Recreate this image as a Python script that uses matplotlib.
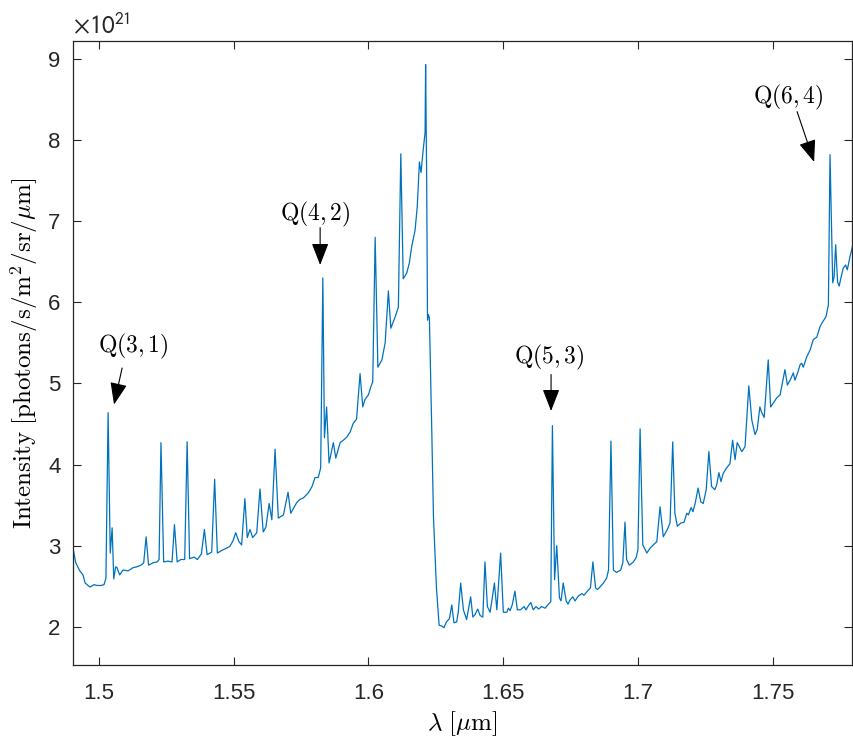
import matplotlib
matplotlib.use("Agg")
import matplotlib.pyplot as plt
from matplotlib.patches import ArrowStyle

plt.rcParams.update({
    "font.family": ["Liberation Sans", "DejaVu Sans"],
    "mathtext.fontset": "cm",
})

# ---- Data (intensity in units of 1e21 photons/s/m^2/sr/um) ----
wavelength = [
    1.4905, 1.4915, 1.4930, 1.4942, 1.4950, 1.4968, 1.4983, 1.4994, 1.5009, 1.5020,
    1.5027, 1.5035, 1.5043, 1.5050, 1.5056, 1.5063, 1.5068, 1.5078, 1.5090, 1.5109,
    1.5128, 1.5142, 1.5157, 1.5167, 1.5176, 1.5185, 1.5202, 1.5217, 1.5224, 1.5231,
    1.5241, 1.5257, 1.5272, 1.5281, 1.5291, 1.5305, 1.5319, 1.5328, 1.5337, 1.5354,
    1.5366, 1.5381, 1.5392, 1.5402, 1.5419, 1.5430, 1.5440, 1.5461, 1.5486, 1.5498,
    1.5508, 1.5520, 1.5530, 1.5542, 1.5551, 1.5561, 1.5571, 1.5586, 1.5598, 1.5610,
    1.5620, 1.5632, 1.5642, 1.5654, 1.5666, 1.5685, 1.5702, 1.5712, 1.5734, 1.5746,
    1.5759, 1.5777, 1.5791, 1.5802, 1.5814, 1.5823, 1.5831, 1.5837, 1.5845, 1.5854,
    1.5870, 1.5879, 1.5895, 1.5907, 1.5920, 1.5932, 1.5944, 1.5956, 1.5969, 1.5979,
    1.5987, 1.6000, 1.6009, 1.6016, 1.6025, 1.6035, 1.6050, 1.6062, 1.6074, 1.6083,
    1.6099, 1.6111, 1.6120, 1.6129, 1.6142, 1.6152, 1.6160, 1.6173, 1.6181, 1.6189,
    1.6195, 1.6203, 1.6210, 1.6212, 1.6216, 1.6219, 1.6222, 1.6226, 1.6235, 1.6241,
    1.6252, 1.6262, 1.6272, 1.6280, 1.6289, 1.6300, 1.6309, 1.6317, 1.6327, 1.6333,
    1.6342, 1.6352, 1.6364, 1.6379, 1.6387, 1.6395, 1.6405, 1.6414, 1.6424, 1.6432,
    1.6441, 1.6451, 1.6458, 1.6467, 1.6476, 1.6490, 1.6500, 1.6513, 1.6519, 1.6525,
    1.6533, 1.6543, 1.6552, 1.6564, 1.6577, 1.6584, 1.6593, 1.6602, 1.6611, 1.6621,
    1.6631, 1.6642, 1.6655, 1.6667, 1.6676, 1.6682, 1.6690, 1.6698, 1.6708, 1.6714,
    1.6722, 1.6733, 1.6740, 1.6747, 1.6757, 1.6766, 1.6778, 1.6791, 1.6799, 1.6809,
    1.6823, 1.6832, 1.6842, 1.6849, 1.6858, 1.6871, 1.6883, 1.6890, 1.6899, 1.6908,
    1.6920, 1.6935, 1.6943, 1.6951, 1.6957, 1.6967, 1.6982, 1.6992, 1.6999, 1.7007,
    1.7017, 1.7032, 1.7044, 1.7056, 1.7069, 1.7081, 1.7093, 1.7108, 1.7118, 1.7128,
    1.7136, 1.7145, 1.7158, 1.7170, 1.7180, 1.7186, 1.7196, 1.7203, 1.7211, 1.7222,
    1.7232, 1.7241, 1.7252, 1.7262, 1.7272, 1.7284, 1.7291, 1.7299, 1.7307, 1.7315,
    1.7328, 1.7340, 1.7350, 1.7359, 1.7367, 1.7375, 1.7384, 1.7396, 1.7410, 1.7421,
    1.7433, 1.7441, 1.7451, 1.7458, 1.7467, 1.7482, 1.7491, 1.7501, 1.7513, 1.7526,
    1.7544, 1.7553, 1.7563, 1.7575, 1.7581, 1.7591, 1.7600, 1.7606, 1.7612, 1.7625,
    1.7637, 1.7649, 1.7662, 1.7674, 1.7684, 1.7696, 1.7705, 1.7711, 1.7721, 1.7726,
    1.7732, 1.7739, 1.7745, 1.7752, 1.7760, 1.7769, 1.7775, 1.7785, 1.7800,
]

intensity = [
    2.97, 2.79, 2.69, 2.64, 2.54, 2.49, 2.52, 2.51, 2.51, 2.52,
    2.60, 4.64, 2.91, 3.22, 2.59, 2.74, 2.73, 2.64, 2.70, 2.69,
    2.73, 2.74, 2.76, 2.79, 3.11, 2.76, 2.79, 2.80, 2.83, 4.27,
    2.80, 2.81, 2.80, 3.26, 2.80, 2.83, 2.83, 4.28, 2.84, 2.86,
    2.83, 2.90, 3.20, 2.89, 2.92, 3.82, 2.91, 2.95, 2.99, 3.06,
    3.16, 3.05, 3.01, 3.58, 3.10, 3.20, 3.10, 3.16, 3.70, 3.17,
    3.23, 3.52, 3.32, 4.19, 3.34, 3.38, 3.66, 3.40, 3.53, 3.57,
    3.59, 3.65, 3.73, 3.84, 3.84, 3.96, 6.30, 4.33, 4.71, 4.02,
    4.27, 4.08, 4.27, 4.30, 4.34, 4.40, 4.51, 4.56, 5.12, 4.71,
    4.80, 4.86, 4.96, 5.02, 6.80, 5.20, 5.29, 5.50, 6.14, 5.68,
    5.82, 5.94, 7.83, 6.29, 6.36, 6.49, 6.68, 6.89, 7.18, 7.73,
    7.60, 7.88, 8.09, 8.93, 7.47, 5.78, 5.85, 5.81, 4.39, 3.36,
    2.49, 2.02, 2.01, 1.99, 2.06, 2.10, 2.27, 2.05, 2.06, 2.18,
    2.54, 2.21, 2.09, 2.37, 2.12, 2.15, 2.22, 2.14, 2.12, 2.80,
    2.25, 2.18, 2.33, 2.54, 2.21, 2.91, 2.18, 2.18, 2.23, 2.20,
    2.27, 2.44, 2.21, 2.21, 2.25, 2.21, 2.26, 2.30, 2.21, 2.25,
    2.22, 2.25, 2.23, 2.28, 2.31, 4.48, 2.58, 3.00, 2.36, 2.32,
    2.54, 2.32, 2.28, 2.33, 2.37, 2.32, 2.38, 2.41, 2.39, 2.43,
    2.48, 2.80, 2.48, 2.46, 2.49, 2.54, 2.60, 2.70, 4.29, 2.70,
    2.67, 2.70, 2.79, 3.29, 2.83, 2.76, 2.80, 2.85, 2.95, 4.44,
    3.01, 2.91, 2.97, 3.01, 3.05, 3.48, 3.11, 3.20, 3.28, 4.28,
    3.40, 3.24, 3.28, 3.29, 3.40, 3.38, 3.47, 3.42, 3.52, 3.71,
    3.54, 3.52, 3.69, 4.16, 3.73, 3.69, 3.75, 3.90, 3.79, 3.89,
    3.96, 4.01, 4.30, 4.06, 4.27, 4.22, 4.16, 4.22, 4.97, 4.55,
    4.37, 4.43, 4.71, 4.64, 4.58, 5.29, 4.71, 4.76, 4.82, 4.86,
    5.17, 4.98, 5.04, 5.13, 5.04, 5.13, 5.23, 5.25, 5.20, 5.33,
    5.41, 5.54, 5.57, 5.70, 5.76, 5.82, 5.97, 7.82, 6.24, 6.31,
    6.71, 6.25, 6.20, 6.31, 6.42, 6.46, 6.40, 6.56, 6.77,
]

# annotation labels, arrow tail/head and text centre (data units)
line_labels = [r"$\mathrm{Q}(3,1)$", r"$\mathrm{Q}(4,2)$", r"$\mathrm{Q}(5,3)$", r"$\mathrm{Q}(6,4)$"]
arrow_tail = [(1.5087, 5.19), (1.5821, 6.92), (1.6677, 5.11), (1.7589, 8.35)]
arrow_head = [(1.5057, 4.74), (1.5821, 6.46), (1.6677, 4.66), (1.7652, 7.73)]
label_pos = [(1.5127, 5.45), (1.5802, 7.08), (1.6670, 5.32), (1.7555, 8.53)]

xticks = [1.5, 1.55, 1.6, 1.65, 1.7, 1.75]
xtick_labels = ["1.5", "1.55", "1.6", "1.65", "1.7", "1.75"]
yticks = [2, 3, 4, 5, 6, 7, 8, 9]

# ---- Figure ----
fig = plt.figure(figsize=(8.54, 7.42), dpi=100)
ax = fig.add_axes([0.0855, 0.1038, 0.912, 0.8409])

ax.plot(wavelength, intensity, color="#0072BD", lw=0.9)

head = ArrowStyle("-|>", head_length=0.85, head_width=0.33)
for lab, tail, tip, pos in zip(line_labels, arrow_tail, arrow_head, label_pos):
    ax.annotate("", xy=tip, xytext=tail,
                arrowprops=dict(arrowstyle=head, mutation_scale=16,
                                color="black", lw=0.8, shrinkA=0, shrinkB=0))
    ax.text(pos[0], pos[1], lab, fontsize=17, ha="center", va="center")

ax.set_xlim(1.4905, 1.7792)
ax.set_ylim(1.53, 9.22)
ax.set_xticks(xticks)
ax.set_xticklabels(xtick_labels)
ax.set_yticks(yticks)

ax.tick_params(direction="in", top=True, right=True, length=6, width=0.8,
               labelsize=16, colors="#262626")
ax.tick_params(axis="x", pad=13)
ax.tick_params(axis="y", pad=9)
for sp in ax.spines.values():
    sp.set_color("#262626")
    sp.set_linewidth(0.9)

ax.set_xlabel(r"$\lambda\ [\mu\mathrm{m}]$", fontsize=18, labelpad=4)
ax.set_ylabel(r"$\mathrm{Intensity\ [photons/s/m^2/sr/}\mu\mathrm{m]}$", fontsize=18, labelpad=6)

ax.text(0.0, 1.004, r"$\times10^{21}$", transform=ax.transAxes, fontsize=18,
        ha="left", va="bottom", color="#262626", math_fontfamily="stixsans")

fig.savefig("out.png", dpi=100, facecolor="white")
